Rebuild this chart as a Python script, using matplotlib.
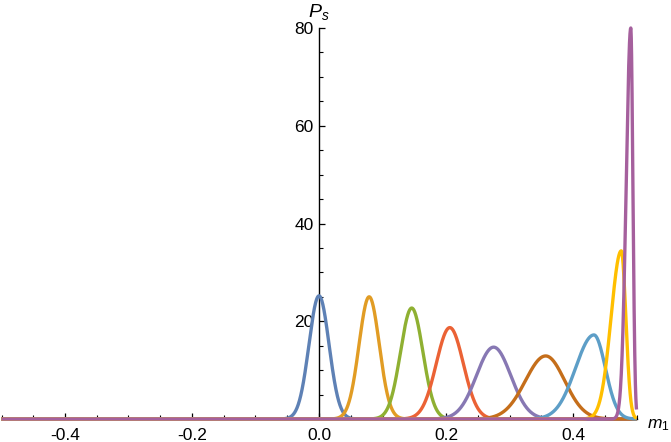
import numpy as np
import matplotlib
matplotlib.use("Agg")
import matplotlib.pyplot as plt
from matplotlib.ticker import MultipleLocator, FixedLocator

# peak position, peak height and left/right widths of each curve
peaks = [0.0, 0.079, 0.146, 0.206, 0.275, 0.357, 0.433, 0.476, 0.491]
heights = [25.2, 25.0, 22.7, 18.7, 14.7, 12.9, 17.2, 34.4, 80.0]
width_left = [0.0158, 0.016, 0.0176, 0.0213, 0.027, 0.032, 0.029, 0.016, 0.0072]
width_right = [0.0158, 0.016, 0.0176, 0.0213, 0.027, 0.030, 0.018, 0.0072, 0.0033]

colors = ["#5E81B5", "#E19C24", "#8FB032", "#EB6235", "#8778B3",
          "#C56E1A", "#5D9EC7", "#FFBF00", "#A5609D"]

xticks = [-0.4, -0.2, 0.0, 0.2, 0.4]
xticklabels = ["-0.4", "-0.2", "0.0", "0.2", "0.4"]
yticks = [20, 40, 60, 80]

plt.rcParams['font.family'] = ['Liberation Sans', 'DejaVu Sans']
plt.rcParams['mathtext.fontset'] = 'custom'
plt.rcParams['mathtext.it'] = 'Liberation Sans:italic'
plt.rcParams['mathtext.rm'] = 'Liberation Sans'

fig = plt.figure(figsize=(6.71, 4.42), dpi=100)
ax = fig.add_axes([1.5/671, 23/442, 635/671, 391/442])

m = np.linspace(-0.5, 0.5, 4001)
for c, h, sl, sr, col in zip(peaks, heights, width_left, width_right, colors):
	s = np.where(m < c, sl, sr)
	p = h*np.exp(-(m - c)**2/(2*s**2))
	ax.plot(m, p, color=col, lw=2.4, clip_on=False, zorder=3,
		solid_capstyle='butt')

ax.set_xlim(-0.5, 0.5)
ax.set_ylim(0, 80)

for s in ['top', 'right']:
	ax.spines[s].set_visible(False)
ax.spines['left'].set_position(('data', 0))
ax.spines['bottom'].set_position(('data', 0))
ax.spines['left'].set_linewidth(1.0)
ax.spines['bottom'].set_linewidth(1.0)

ax.xaxis.set_major_locator(FixedLocator(xticks))
ax.set_xticklabels(xticklabels)
ax.xaxis.set_minor_locator(MultipleLocator(0.05))
ax.yaxis.set_major_locator(FixedLocator(yticks))
ax.yaxis.set_minor_locator(MultipleLocator(5))

ax.tick_params(axis='both', which='major', direction='in', length=4.5, width=0.9,
	labelsize=12.5, color='black')
ax.tick_params(axis='both', which='minor', direction='in', length=2.8, width=0.8)
ax.tick_params(axis='x', which='major', pad=6.5)
ax.tick_params(axis='y', which='major', pad=4)

ax.text(0.0, 83.3, r"$P_s$", fontsize=14, ha='center', va='center',
	transform=ax.transData, clip_on=False)
ax.text(0.517, -1.3, r"$m_1$", fontsize=12.5, ha='left', va='center',
	transform=ax.transData, clip_on=False)

plt.savefig("out.png", dpi=100)
